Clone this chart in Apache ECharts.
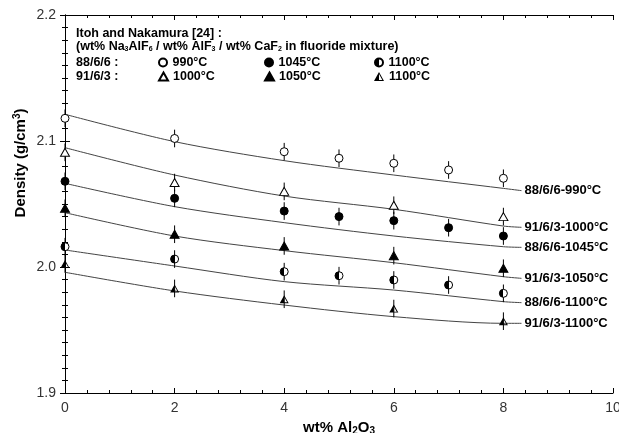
<!DOCTYPE html>
<html>
<head>
<meta charset="utf-8">
<script src="https://cdn.jsdelivr.net/npm/echarts@6/dist/echarts.min.js"></script>
<style>
  html, body { margin: 0; padding: 0; background: #fff; }
  #chart { width: 619px; height: 433px; }
</style>
</head>
<body>
<div id="chart"></div>
<script>
// measured points (wt% Al2O3 -> density g/cm3)
const x990 = [0, 2, 4, 5, 6, 7, 8];
const y990 = [2.118, 2.102, 2.0915, 2.0863, 2.0823, 2.077, 2.0704];
const x1000 = [0, 2, 4, 6, 8];
const y1000 = [2.091, 2.067, 2.060, 2.049, 2.040];
const x1045 = [0, 2, 4, 5, 6, 7, 8];
const y1045 = [2.068, 2.0545, 2.0444, 2.040, 2.0368, 2.0312, 2.0246];
const x1050 = [0, 2, 4, 6, 8];
const y1050 = [2.0466, 2.026, 2.0167, 2.009, 1.999];
const x1100a = [0, 2, 4, 5, 6, 7, 8];
const y1100a = [2.0161, 2.0063, 1.9963, 1.9931, 1.9897, 1.9857, 1.9791];
const x1100b = [0, 2, 4, 6, 8];
const y1100b = [2.0024, 1.983, 1.9744, 1.967, 1.957];
const errBar = 0.007;

// fitted curves
const fitX = [0, 2, 4, 6, 8, 8.33];
const fit990 = [2.1212, 2.0995, 2.0844, 2.073, 2.0624, 2.0606];
const fit1000 = [2.0947, 2.073, 2.0563, 2.0458, 2.0325, 2.0315];
const fit1045 = [2.0664, 2.0479, 2.0352, 2.0246, 2.0161, 2.0156];
const fit1050 = [2.0431, 2.0246, 2.0130, 2.0034, 1.9923, 1.991];
const fit1100a = [2.0135, 2.0008, 1.9884, 1.9817, 1.9725, 1.9717];
const fit1100b = [1.9958, 1.981, 1.9698, 1.9606, 1.9553, 1.9553];

const font = 'Liberation Sans';

// left half black circle
const halfFill = new echarts.graphic.LinearGradient(0, 0, 1, 0, [
    { offset: 0, color: '#000' }, { offset: 0.5, color: '#000' },
    { offset: 0.5, color: '#fff' }, { offset: 1, color: '#fff' }
]);
// triangle outline + left half filled (nonzero winding)
const halfTri = 'path://M10,0 L20,18 L0,18 Z M10,4.1 L3.4,16 L16.6,16 Z M10,0 L10,18 L0,18 Z';

const groups = [
    { name: '88/6/6-990°C', xs: x990, ys: y990, fit: fit990, symbol: 'circle', fill: '#fff', bw: 1 },
    { name: '91/6/3-1000°C', xs: x1000, ys: y1000, fit: fit1000, symbol: 'triangle', fill: '#fff', bw: 1 },
    { name: '88/6/6-1045°C', xs: x1045, ys: y1045, fit: fit1045, symbol: 'circle', fill: '#000', bw: 1 },
    { name: '91/6/3-1050°C', xs: x1050, ys: y1050, fit: fit1050, symbol: 'triangle', fill: '#000', bw: 1 },
    { name: '88/6/6-1100°C', xs: x1100a, ys: y1100a, fit: fit1100a, symbol: 'circle', fill: halfFill, bw: 1 },
    { name: '91/6/3-1100°C', xs: x1100b, ys: y1100b, fit: fit1100b, symbol: halfTri, fill: '#000', bw: 0 }
];

const series = [];
groups.forEach(function (g) {
    series.push({
        type: 'line',
        name: 'fit ' + g.name,
        data: fitX.map(function (x, i) { return [x, g.fit[i]]; }),
        smooth: 0.3,
        showSymbol: false,
        symbol: 'none',
        clip: false,
        lineStyle: { color: '#444', width: 1 },
        endLabel: {
            show: true, distance: 3,
            formatter: g.name,
            fontFamily: font, fontWeight: 'bold', fontSize: 13, color: '#000'
        },
        z: 2
    });
    series.push({
        type: 'custom',
        name: 'err ' + g.name,
        data: g.xs.map(function (x, i) { return [x, g.ys[i], errBar]; }),
        clip: false,
        renderItem: function (params, api) {
            const p1 = api.coord([api.value(0), api.value(1) + api.value(2)]);
            const p2 = api.coord([api.value(0), api.value(1) - api.value(2)]);
            return {
                type: 'line',
                shape: { x1: p1[0], y1: p1[1], x2: p2[0], y2: p2[1] },
                style: { stroke: '#000', lineWidth: 1 }
            };
        },
        z: 3
    });
    series.push({
        type: 'scatter',
        name: g.name,
        data: g.xs.map(function (x, i) { return [x, g.ys[i]]; }),
        symbol: g.symbol,
        symbolSize: g.symbol === 'circle' ? 8 : [9, 8],
        clip: false,
        itemStyle: { color: g.fill, borderColor: '#000', borderWidth: g.bw, opacity: 1 },
        z: 4
    });
});

const legendPos = [
    [158, 56], [158, 70], [264, 56], [264, 70], [374, 56], [374, 70]
];
const legends = groups.map(function (g, i) {
    const isPath = g.symbol.indexOf('path://') === 0;
    return {
        data: [isPath ? { name: g.name, icon: g.symbol } : g.name],
        left: legendPos[i][0],
        top: legendPos[i][1],
        padding: 0,
        itemWidth: isPath ? 10 : 9,
        itemHeight: isPath ? 9 : 8,
        selectedMode: false,
        formatter: function (n) { return n.split('-')[1]; },
        textStyle: { fontFamily: font, fontWeight: 'bold', fontSize: 12.5, color: '#000' }
    };
});

const tickLabel = { fontFamily: font, fontSize: 14, color: '#333' };
const axisLine = { lineStyle: { color: '#000', width: 1 } };

const chart = echarts.init(document.getElementById('chart'));
chart.setOption({
    animation: false,
    backgroundColor: '#fff',
    grid: { left: 65, right: 6, top: 15, bottom: 40, outerBoundsMode: 'none', containLabel: false },
    legend: legends,
    xAxis: [
        {
            type: 'value', min: 0, max: 10, interval: 2,
            name: 'wt% Al{sub|2}O{sub|3}',
            nameLocation: 'middle', nameGap: 16,
            nameTextStyle: {
                fontFamily: font, fontWeight: 'bold', fontSize: 15, color: '#000',
                rich: { sub: { fontFamily: font, fontWeight: 'bold', fontSize: 10, padding: [8, 0, 0, 0] } }
            },
            axisLine: axisLine,
            axisTick: { inside: true, length: 5, lineStyle: { color: '#000' } },
            minorTick: { show: true, splitNumber: 5, length: 3, lineStyle: { color: '#000' } },
            axisLabel: Object.assign({ margin: 8 }, tickLabel),
            splitLine: { show: false }
        },
        {
            type: 'value', min: 0, max: 10, interval: 2, position: 'top',
            axisLine: axisLine,
            axisTick: { inside: true, length: 5, lineStyle: { color: '#000' } },
            minorTick: { show: true, splitNumber: 5, length: 3, lineStyle: { color: '#000' } },
            axisLabel: { show: false },
            splitLine: { show: false }
        }
    ],
    yAxis: [
        {
            type: 'value', min: 1.9, max: 2.2, interval: 0.1,
            axisLine: axisLine,
            axisTick: { inside: true, length: 5, lineStyle: { color: '#000' } },
            minorTick: { show: true, splitNumber: 10, length: 3, lineStyle: { color: '#000' } },
            axisLabel: Object.assign({ margin: 9, formatter: function (v) { return v.toFixed(1); } }, tickLabel),
            splitLine: { show: false }
        },
        {
            type: 'value', min: 1.9, max: 2.2, interval: 0.1, position: 'right',
            axisLine: axisLine,
            axisTick: { inside: true, length: 5, lineStyle: { color: '#000' } },
            minorTick: { show: true, splitNumber: 10, length: 3, lineStyle: { color: '#000' } },
            axisLabel: { show: false },
            splitLine: { show: false }
        }
    ],
    graphic: [
        {
            type: 'text', left: 76, top: 27,
            style: { text: 'Itoh and Nakamura [24] :', font: 'bold 12.5px "Liberation Sans"', fill: '#000' }
        },
        {
            type: 'text', left: 76, top: 40,
            style: {
                text: '(wt% Na{sub|3}AlF{sub|6} / wt% AlF{sub|3} / wt% CaF{sub|2} in fluoride mixture)',
                font: 'bold 12.5px "Liberation Sans"', fill: '#000',
                rich: { sub: { font: 'bold 7px "Liberation Sans"', padding: [6, 0, 0, 0] } }
            }
        },
        {
            type: 'text', left: 76, top: 56,
            style: { text: '88/6/6 :', font: 'bold 12.5px "Liberation Sans"', fill: '#000' }
        },
        {
            type: 'text', left: 76, top: 70,
            style: { text: '91/6/3 :', font: 'bold 12.5px "Liberation Sans"', fill: '#000' }
        },
        {
            type: 'text', x: 21, y: 163, rotation: Math.PI / 2,
            style: {
                text: 'Density (g/cm{sup|3})',
                font: 'bold 15px "Liberation Sans"', fill: '#000',
                align: 'center', verticalAlign: 'middle',
                rich: { sup: { font: 'bold 10px "Liberation Sans"', padding: [0, 0, 8, 0] } }
            }
        }
    ],
    series: series
});
</script>
</body>
</html>
